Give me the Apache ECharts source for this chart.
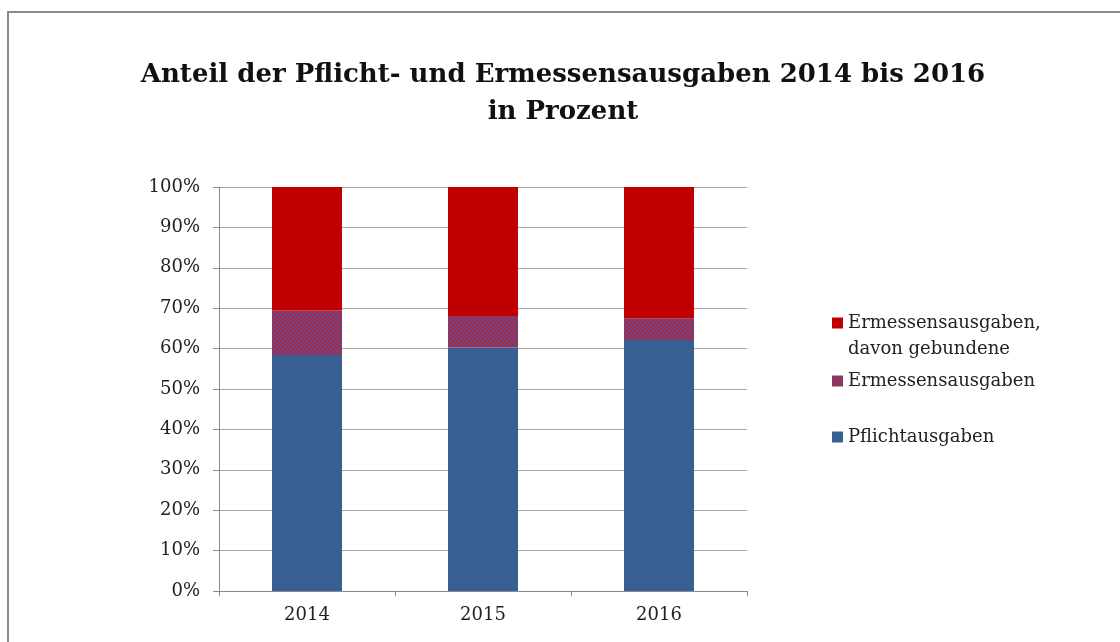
<!DOCTYPE html>
<html>
<head>
<meta charset="utf-8">
<script src="https://cdn.jsdelivr.net/npm/echarts@6/dist/echarts.min.js"></script>
<style>
  html, body { margin: 0; padding: 0; background: #fff; }
  #chart { width: 1120px; height: 642px; }
</style>
</head>
<body>
<div id="chart"></div>
<script>
var years = ['2014', '2015', '2016'];
var pflicht = [58.4, 60.3, 62.1];
var ermessen = [11.0, 7.8, 5.4];
var gebunden = [30.6, 31.9, 32.5];
var yTicks = [0, 10, 20, 30, 40, 50, 60, 70, 80, 90, 100];

var serif = 'DejaVu Serif';
var red = '#c00000';
var blue = '#375f91';

// schraffur fuer ermessensausgaben
function hatch() {
	var c = document.createElement('canvas');
	c.width = 4;
	c.height = 4;
	var ctx = c.getContext('2d');
	for (var x = 0; x < 4; x++) {
		for (var y = 0; y < 4; y++) {
			ctx.fillStyle = ((x - y + 8) % 4 < 2) ? '#c0183a' : '#55568f';
			ctx.fillRect(x, y, 1, 1);
		}
	}
	return { image: c, repeat: 'repeat' };
}
var hatchFill = hatch();

var myChart = echarts.init(document.getElementById('chart'));
var legendBase = {
	orient : 'vertical',
	left : 832,
	padding : 0,
	itemWidth : 11,
	itemHeight : 11,
	itemGap : 0,
	icon : 'rect',
	selectedMode : false,
	textStyle : { fontFamily : serif, fontSize : 18, color : '#222', lineHeight : 26 }
};
option = {
	backgroundColor : '#fff',
	animation : false,
	title : {
		text : 'Anteil der Pflicht- und Ermessensausgaben 2014 bis 2016\nin Prozent',
		left : 558,
		textAlign : 'center',
		top : 52,
		textStyle : { fontFamily : serif, fontWeight : 'bold', fontSize : 26, color : '#111', lineHeight : 37 }
	},
	legend : [
		echarts.util.merge({
			top : 284,
			data : [ 'Ermessensausgaben,\ndavon gebundene' ],
			// erste zeile auf hoehe des symbols
			formatter : function(name) { return '\n' + name; }
		}, legendBase),
		echarts.util.merge({ top : 368, data : [ 'Ermessensausgaben' ] }, legendBase),
		echarts.util.merge({ top : 424, data : [ 'Pflichtausgaben' ] }, legendBase)
	],
	grid : { left : 219, right : 373, top : 187, bottom : 51 },
	xAxis : {
		type : 'category',
		data : years,
		axisLine : { lineStyle : { color : '#8a8a8a' } },
		axisTick : { show : true, length : 5, lineStyle : { color : '#8a8a8a' } },
		axisLabel : { fontFamily : serif, fontSize : 18, color : '#222', margin : 15 }
	},
	yAxis : {
		type : 'value',
		min : yTicks[0],
		max : yTicks[yTicks.length - 1],
		interval : 10,
		axisLine : { show : true, lineStyle : { color : '#8a8a8a' } },
		axisTick : { show : true, length : 6, lineStyle : { color : '#8a8a8a' } },
		splitLine : { lineStyle : { color : '#a6a6a6' } },
		axisLabel : { fontFamily : serif, fontSize : 18, color : '#222', margin : 19, formatter : '{value}%' }
	},
	series : [ {
		name : 'Pflichtausgaben',
		type : 'bar',
		stack : 'a',
		barWidth : 70,
		itemStyle : { color : blue },
		data : pflicht
	}, {
		name : 'Ermessensausgaben',
		type : 'bar',
		stack : 'a',
		barWidth : 70,
		itemStyle : { color : hatchFill },
		data : ermessen
	}, {
		name : 'Ermessensausgaben,\ndavon gebundene',
		type : 'bar',
		stack : 'a',
		barWidth : 70,
		itemStyle : { color : red },
		data : gebunden
	} ],
	graphic : [ {
		type : 'rect',
		shape : { x : 8, y : 12, width : 1140, height : 660 },
		style : { fill : 'none', stroke : '#8c8c8c', lineWidth : 2 },
		silent : true
	} ]
};
myChart.setOption(option);
</script>
</body>
</html>
